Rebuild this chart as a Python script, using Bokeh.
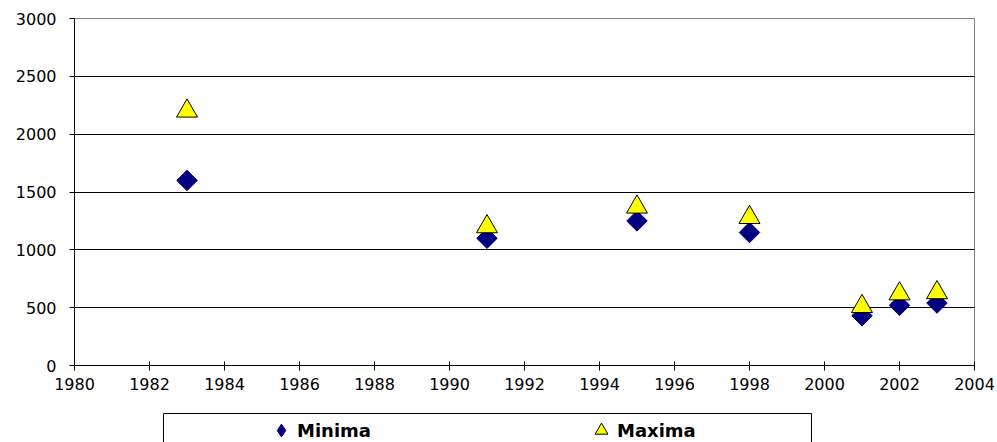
import math

from bokeh.embed import file_html
from bokeh.models import FixedTicker, Legend, LegendItem, LinearAxis, Range1d
from bokeh.plotting import figure
from bokeh.resources import INLINE

# Observed yearly extremes
years = [1983, 1991, 1995, 1998, 2001, 2002, 2003]
minima = [1600, 1100, 1250, 1150, 430, 520, 540]
maxima = [2200, 1200, 1370, 1280, 510, 620, 630]

x_ticks = list(range(1980, 2005, 2))
y_ticks = list(range(0, 3001, 500))

FONT = "DejaVu Sans"

NAVY = "#000080"
YELLOW = "#FFFF00"

# ---- main scatter chart ----
p = figure(
    width=997, height=413,
    output_backend="svg", toolbar_location=None,
    x_range=Range1d(1980, 2004), y_range=Range1d(0, 3000),
    min_border_left=74, min_border_right=23,
    min_border_top=18, min_border_bottom=48,
)
p.background_fill_color = "white"
p.border_fill_color = "white"
p.outline_line_color = "#808080"
p.outline_line_width = 1

p.xaxis.ticker = FixedTicker(ticks=x_ticks)
p.yaxis.ticker = FixedTicker(ticks=y_ticks)
for ax in (p.xaxis[0], p.yaxis[0]):
    ax.axis_line_color = "black"
    ax.major_tick_line_color = "black"
    ax.minor_tick_line_color = None
    ax.major_label_text_font = FONT
    ax.major_label_text_font_size = "16px"
    ax.major_label_text_color = "black"
p.xaxis.major_tick_in = 4
p.xaxis.major_tick_out = 5
p.xaxis.major_label_standoff = 7
p.yaxis.major_tick_in = 0
p.yaxis.major_tick_out = 5
p.yaxis.major_label_standoff = 13

p.xgrid.grid_line_color = None
p.ygrid.grid_line_color = "black"
p.ygrid.grid_line_width = 1

# diamonds = square markers turned by 45 degrees
p.scatter(years, minima, marker="square", angle=math.pi / 4, size=14.5,
          fill_color=NAVY, line_color=NAVY, line_width=1)
p.scatter(years, maxima, marker="triangle", size=21,
          fill_color=YELLOW, line_color="black", line_width=1)

# ---- legend strip under the chart ----
leg = figure(
    width=997, height=29,
    output_backend="svg", toolbar_location=None,
    x_range=Range1d(0, 1), y_range=Range1d(0, 1),
    x_axis_location=None, y_axis_location=None,
    min_border_left=163, min_border_right=186,
    min_border_top=0, min_border_bottom=0,
)
leg.outline_line_color = None
leg.xgrid.grid_line_color = None
leg.ygrid.grid_line_color = None
leg.background_fill_color = "white"
leg.border_fill_color = "white"

# open-bottomed frame around the legend entries
for side in ("left", "right", "above"):
    frame_axis = LinearAxis(
        ticker=FixedTicker(ticks=[]),
        major_tick_in=0, major_tick_out=0,
        minor_tick_in=0, minor_tick_out=0,
        major_label_standoff=0,
        axis_line_color="black", axis_line_width=1,
    )
    leg.add_layout(frame_axis, side)

# key glyphs share the series data; the strip's ranges keep the points out of view
key_min = leg.scatter(years, minima, marker="diamond", size=10,
                      fill_color=NAVY, line_color=NAVY, line_width=1)
key_max = leg.scatter(years, maxima, marker="triangle", size=10,
                      fill_color=YELLOW, line_color="black", line_width=1)

legend = Legend(
    items=[LegendItem(label="Minima", renderers=[key_min]),
           LegendItem(label="Maxima", renderers=[key_max])],
    orientation="horizontal",
    location=(102, -4),
    padding=0, margin=0,
    glyph_width=32, glyph_height=32,
    label_standoff=0, label_width=90, spacing=198,
    label_text_font=FONT, label_text_font_size="18px",
    label_text_font_style="bold", label_text_color="black",
    border_line_color=None, background_fill_alpha=0,
)
leg.add_layout(legend, "center")

open("out.html", "w").write(file_html([p, leg], INLINE))
